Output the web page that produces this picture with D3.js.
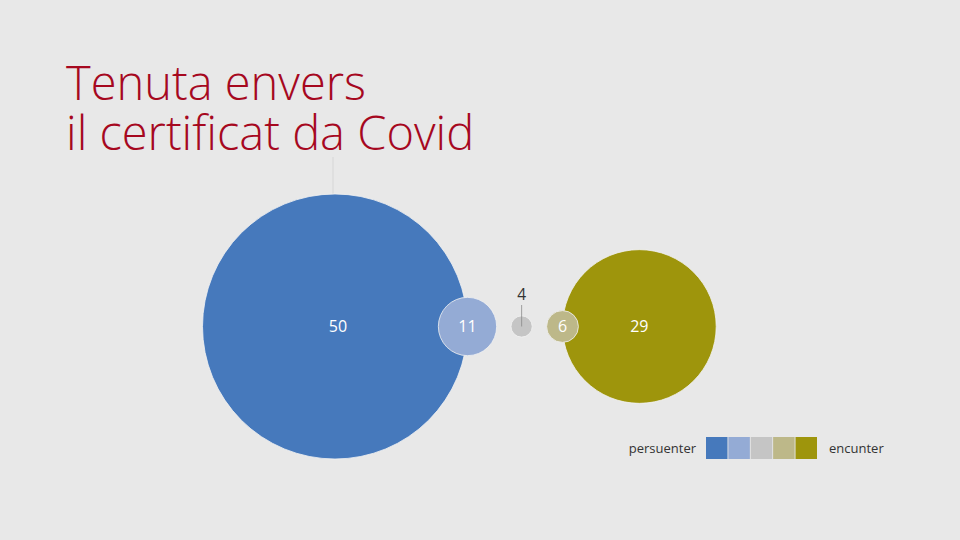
<!DOCTYPE html>
<html><head><meta charset="utf-8">
<script src="https://cdn.jsdelivr.net/npm/d3@7"></script>
<style>
html,body{margin:0;padding:0;background:#e8e8e8;}
svg{display:block;font-family:"Open Sans",sans-serif;}
</style></head>
<body>
<svg id="chart" width="960" height="540"></svg>
<script>
// ---- data ----
const categories = ["persuenter", "pitost persuenter", "na sai", "pitost encunter", "encunter"];
const values = [50, 11, 4, 6, 29];
const colors = ["#4679bc", "#94abd5", "#c5c5c5", "#bdb889", "#9e950c"];
const titleLines = ["Tenuta envers", "il certificat da Covid"];
const legendLabels = ["persuenter", "encunter"];

// ---- layout ----
const W = 960, H = 540;
const svg = d3.select("#chart");
svg.append("rect").attr("width", W).attr("height", H).attr("fill", "#e8e8e8");

// radius proportional to value
const r = d3.scaleLinear().domain([0, 50]).range([0, 132.5]);
const cy = 326.5;
const bigLeftCx = 335;           // center of the first big circle
const gapBig = 95;               // gap between the two big circles

// compute centers
const cx = new Array(values.length);
cx[0] = bigLeftCx;
const blueRight = cx[0] + r(values[0]);
cx[1] = blueRight;                                  // centered on blue edge
const oliveLeft = blueRight + gapBig;
cx[4] = oliveLeft + r(values[4]);
cx[3] = oliveLeft;                                  // centered on olive edge
cx[2] = ((cx[1] + r(values[1])) + (cx[3] - r(values[3]))) / 2;

const data = values.map((v, i) => ({ v, i, cx: cx[i], r: r(v), color: colors[i], cat: categories[i] }));

// faint leader line above big circle
svg.append("line")
  .attr("x1", 333).attr("x2", 333)
  .attr("y1", 157).attr("y2", cy - r(values[0]))
  .attr("stroke", "#d6d6d6").attr("stroke-width", 1);

// title
titleLines.forEach((t, i) => {
  svg.append("text")
    .attr("x", 66).attr("y", 100 + i * 49.5)
    .attr("fill", "#a6081f")
    .style("font-size", "47px")
    .style("font-weight", 300)
    .text(t);
});

// circles: draw big ones first then small ones on top
const order = [0, 4, 1, 2, 3];
svg.selectAll("circle.bub")
  .data(order.map(i => data[i]))
  .join("circle")
  .attr("class", "bub")
  .attr("cx", d => d.cx)
  .attr("cy", cy)
  .attr("r", d => d.r)
  .attr("fill", d => d.color)
  .attr("stroke", "#f2f2f2")
  .attr("stroke-width", 0.8);

// labels
const inside = data.filter(d => d.r > 14);
svg.selectAll("text.val")
  .data(inside)
  .join("text")
  .attr("class", "val")
  .attr("x", d => d.cx + (d.i === 0 ? 3 : 0))
  .attr("y", cy)
  .attr("dy", "0.36em")
  .attr("text-anchor", "middle")
  .attr("fill", "#ffffff")
  .style("font-size", "16px")
  .text(d => d.v);

const outside = data.filter(d => d.r <= 14);
outside.forEach(d => {
  svg.append("line")
    .attr("x1", d.cx).attr("x2", d.cx)
    .attr("y1", 305).attr("y2", cy)
    .attr("stroke", "#8a8a8a").attr("stroke-width", 0.8);
  svg.append("text")
    .attr("x", d.cx).attr("y", 300)
    .attr("text-anchor", "middle")
    .attr("fill", "#333333")
    .style("font-size", "15.5px")
    .text(d.v);
});

// legend
const legX = 706, legY = 437, step = 22.2;
const legScale = d3.scaleBand().domain(d3.range(colors.length)).range([legX, legX + colors.length * step]).paddingInner(0.04);
svg.selectAll("rect.leg")
  .data(colors)
  .join("rect")
  .attr("class", "leg")
  .attr("x", (c, i) => legScale(i))
  .attr("y", legY)
  .attr("width", legScale.bandwidth())
  .attr("height", 22)
  .attr("fill", c => c);

svg.append("text")
  .attr("x", legX - 10).attr("y", legY + 11).attr("dy", "0.36em")
  .attr("text-anchor", "end").attr("fill", "#333")
  .style("font-size", "13px").text(legendLabels[0]);
svg.append("text")
  .attr("x", legX + colors.length * step + 12).attr("y", legY + 11).attr("dy", "0.36em")
  .attr("text-anchor", "start").attr("fill", "#333")
  .style("font-size", "13px").text(legendLabels[1]);
</script>
</body></html>
